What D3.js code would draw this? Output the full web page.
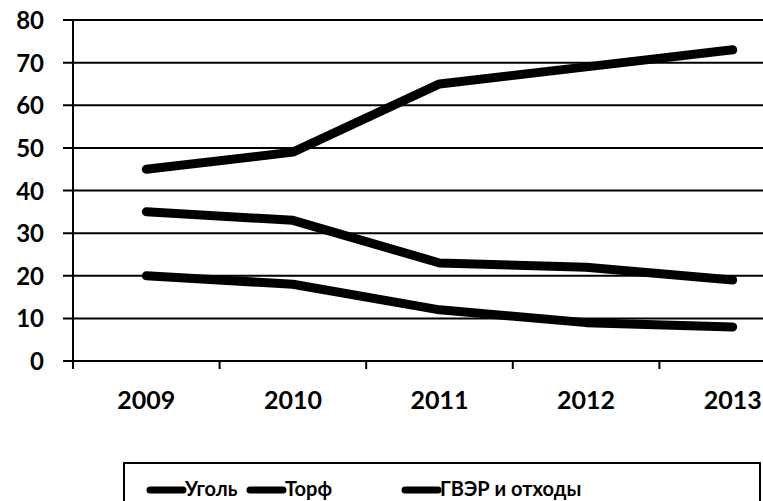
<html>
<head>
<meta charset="utf-8">
<style>
  body { margin: 0; background: #fff; }
  text { font-family: Lato, "Open Sans", sans-serif; font-weight: bold; fill: #000; }
</style>
</head>
<body>
<div id="chart"></div>
<script src="https://cdn.jsdelivr.net/npm/d3@7"></script>
<script>
var years = ["2009", "2010", "2011", "2012", "2013"];
var coal = [45, 49, 65, 69, 73];
var peat = [35, 33, 23, 22, 19];
var waste = [20, 18, 12, 9, 8];
var seriesNames = ["Уголь", "Торф", "ГВЭР и отходы"];
var yTicks = [0, 10, 20, 30, 40, 50, 60, 70, 80];

var width = 763, height = 501;
var svg = d3.select("#chart").append("svg")
  .attr("width", width).attr("height", height);

var x = d3.scaleBand().domain(years).range([73, 806]);
var y = d3.scaleLinear().domain([0, 80]).range([361, 20]);

// gridlines + y ticks
svg.selectAll("line.grid").data(yTicks).enter().append("line")
  .attr("class", "grid")
  .attr("x1", 63).attr("x2", width)
  .attr("y1", function(d) { return y(d); })
  .attr("y2", function(d) { return y(d); })
  .attr("stroke", "#000").attr("stroke-width", 2);

svg.selectAll("text.ylab").data(yTicks).enter().append("text")
  .attr("class", "ylab")
  .attr("x", 44).attr("y", function(d) { return y(d) + 9; })
  .attr("text-anchor", "end")
  .attr("font-size", 24)
  .text(function(d) { return d; });

// y axis line
svg.append("line")
  .attr("x1", 73).attr("x2", 73).attr("y1", y(80)).attr("y2", 369)
  .attr("stroke", "#000").attr("stroke-width", 2);

// x ticks at category boundaries
svg.selectAll("line.xtick").data(years.slice(1)).enter().append("line")
  .attr("class", "xtick")
  .attr("x1", function(d) { return x(d); }).attr("x2", function(d) { return x(d); })
  .attr("y1", y(0)).attr("y2", 369)
  .attr("stroke", "#000").attr("stroke-width", 2);

svg.selectAll("text.xlab").data(years).enter().append("text")
  .attr("class", "xlab")
  .attr("x", function(d) { return x(d) + x.bandwidth() / 2; })
  .attr("y", 409)
  .attr("text-anchor", "middle")
  .attr("font-size", 25)
  .text(function(d) { return d; });

// series lines
var line = d3.line()
  .x(function(d, i) { return x(years[i]) + x.bandwidth() / 2; })
  .y(function(d) { return y(d); });

[coal, peat, waste].forEach(function(s) {
  svg.append("path")
    .attr("d", line(s))
    .attr("fill", "none")
    .attr("stroke", "#000")
    .attr("stroke-width", 9)
    .attr("stroke-linecap", "round")
    .attr("stroke-linejoin", "round");
});

// legend
svg.append("rect")
  .attr("x", 124).attr("y", 463).attr("width", 636).attr("height", 60)
  .attr("fill", "none").attr("stroke", "#000").attr("stroke-width", 2);

var legX = [147, 247, 402];
seriesNames.forEach(function(name, i) {
  svg.append("line")
    .attr("x1", legX[i] + 3).attr("x2", legX[i] + 36)
    .attr("y1", 490).attr("y2", 490)
    .attr("stroke", "#000").attr("stroke-width", 7)
    .attr("stroke-linecap", "round");
  svg.append("text")
    .attr("x", legX[i] + 38).attr("y", 496)
    .attr("font-size", 20)
    .text(name);
});
</script>
</body>
</html>
